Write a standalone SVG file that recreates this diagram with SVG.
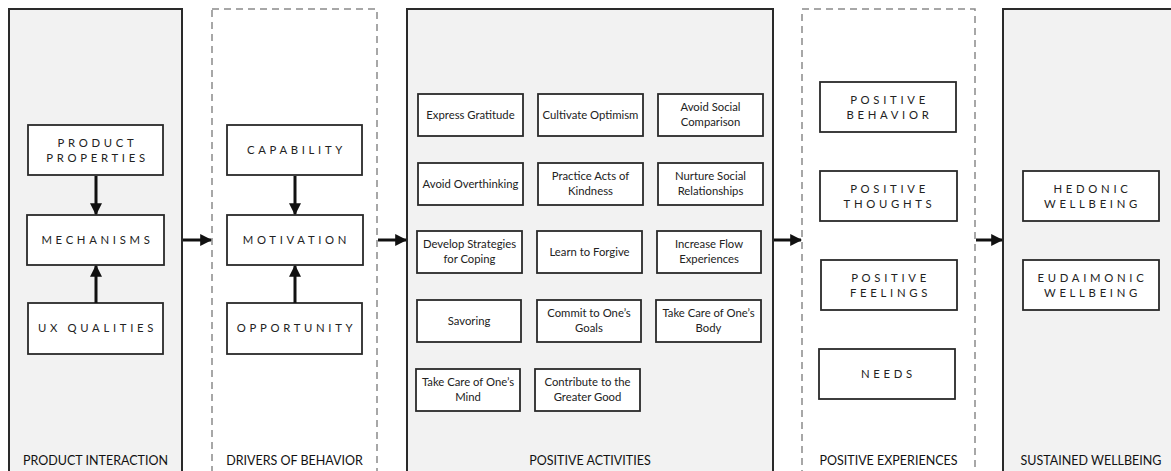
<svg xmlns="http://www.w3.org/2000/svg" width="1171" height="471" viewBox="0 0 1171 471">
  <defs>
    <marker id="head" viewBox="0 0 10 10" refX="9" refY="5" markerWidth="4" markerHeight="4" orient="auto" markerUnits="strokeWidth">
      <path d="M0,0 L10,5 L0,10 Z" fill="#111"/>
    </marker>
    <style>
      .panel { fill: #f2f2f2; stroke: #2a2a2a; stroke-width: 2; }
      .dashed { fill: #ffffff; stroke: #8a8a8a; stroke-width: 1.5; stroke-dasharray: 7 5; }
      .box { fill: #ffffff; stroke: #2a2a2a; stroke-width: 1.8; }
      .caps { font-family: Lato, "Noto Sans", sans-serif; font-size: 11.3px; letter-spacing: 3.7px; fill: #222; text-anchor: middle; }
      .act { font-family: Lato, "Noto Sans", sans-serif; font-size: 11.3px; fill: #222; text-anchor: middle; }
      .title { font-family: Lato, "Noto Sans", sans-serif; font-size: 12.5px; fill: #111; text-anchor: middle; }
      .link { stroke: #111; stroke-width: 3; fill: none; marker-end: url(#head); }
    </style>
  </defs>

  <!-- column containers -->
  <g id="col-product-interaction">
    <rect class="panel" x="9" y="9" width="173" height="475"/>
    <text class="title" x="95.5" y="465">PRODUCT INTERACTION</text>
  </g>
  <g id="col-drivers">
    <rect class="dashed" x="212" y="9" width="165" height="475"/>
    <text class="title" x="294.5" y="465">DRIVERS OF BEHAVIOR</text>
  </g>
  <g id="col-activities">
    <rect class="panel" x="407" y="9" width="366" height="475"/>
    <text class="title" x="590" y="465">POSITIVE ACTIVITIES</text>
  </g>
  <g id="col-experiences">
    <rect class="dashed" x="802" y="9" width="173" height="475"/>
    <text class="title" x="888.5" y="465">POSITIVE EXPERIENCES</text>
  </g>
  <g id="col-wellbeing">
    <rect class="panel" x="1003" y="9" width="180" height="475"/>
    <text class="title" x="1091" y="465">SUSTAINED WELLBEING</text>
  </g>

  <!-- product interaction (caps labels nudged right to offset trailing letter-spacing) -->
  <g id="product-properties">
    <rect class="box" x="28" y="125" width="135" height="50"/>
    <text class="caps" x="97.5" y="147">PRODUCT</text>
    <text class="caps" x="97.5" y="162">PROPERTIES</text>
  </g>
  <g id="mechanisms">
    <rect class="box" x="27" y="215" width="137" height="50"/>
    <text class="caps" x="97.5" y="244">MECHANISMS</text>
  </g>
  <g id="ux-qualities">
    <rect class="box" x="28" y="303" width="135" height="51"/>
    <text class="caps" x="97.5" y="332">UX QUALITIES</text>
  </g>

  <!-- drivers of behavior -->
  <g id="capability">
    <rect class="box" x="227" y="125" width="135" height="50"/>
    <text class="caps" x="296.5" y="154">CAPABILITY</text>
  </g>
  <g id="motivation">
    <rect class="box" x="227" y="215" width="136" height="50"/>
    <text class="caps" x="296.5" y="244">MOTIVATION</text>
  </g>
  <g id="opportunity">
    <rect class="box" x="227" y="303" width="135" height="51"/>
    <text class="caps" x="296.5" y="332">OPPORTUNITY</text>
  </g>

  <!-- positive activities -->
  <g id="express-gratitude">
    <rect class="box" x="418" y="94" width="105" height="42"/>
    <text class="act" x="470.5" y="119">Express Gratitude</text>
  </g>
  <g id="cultivate-optimism">
    <rect class="box" x="538" y="94" width="105" height="42"/>
    <text class="act" x="590.5" y="119">Cultivate Optimism</text>
  </g>
  <g id="avoid-social-comparison">
    <rect class="box" x="658" y="94" width="105" height="42"/>
    <text class="act" x="710.5" y="111">Avoid Social</text>
    <text class="act" x="710.5" y="126">Comparison</text>
  </g>

  <g id="avoid-overthinking">
    <rect class="box" x="418" y="163" width="105" height="42"/>
    <text class="act" x="470.5" y="188">Avoid Overthinking</text>
  </g>
  <g id="practice-kindness">
    <rect class="box" x="538" y="163" width="105" height="42"/>
    <text class="act" x="590.5" y="180">Practice Acts of</text>
    <text class="act" x="590.5" y="195">Kindness</text>
  </g>
  <g id="nurture-relationships">
    <rect class="box" x="658" y="163" width="105" height="42"/>
    <text class="act" x="710.5" y="180">Nurture Social</text>
    <text class="act" x="710.5" y="195">Relationships</text>
  </g>

  <g id="coping-strategies">
    <rect class="box" x="417" y="231" width="105" height="42"/>
    <text class="act" x="469.5" y="248">Develop Strategies</text>
    <text class="act" x="469.5" y="263">for Coping</text>
  </g>
  <g id="learn-to-forgive">
    <rect class="box" x="537" y="231" width="105" height="42"/>
    <text class="act" x="589.5" y="256">Learn to Forgive</text>
  </g>
  <g id="flow-experiences">
    <rect class="box" x="657" y="231" width="104" height="42"/>
    <text class="act" x="709" y="248">Increase Flow</text>
    <text class="act" x="709" y="263">Experiences</text>
  </g>

  <g id="savoring">
    <rect class="box" x="417" y="300" width="104" height="42"/>
    <text class="act" x="469" y="325">Savoring</text>
  </g>
  <g id="commit-goals">
    <rect class="box" x="537" y="300" width="104" height="42"/>
    <text class="act" x="589" y="317">Commit to One’s</text>
    <text class="act" x="589" y="332">Goals</text>
  </g>
  <g id="care-body">
    <rect class="box" x="656" y="300" width="105" height="42"/>
    <text class="act" x="708.5" y="317">Take Care of One’s</text>
    <text class="act" x="708.5" y="332">Body</text>
  </g>

  <g id="care-mind">
    <rect class="box" x="416" y="369" width="104" height="42"/>
    <text class="act" x="468" y="386">Take Care of One’s</text>
    <text class="act" x="468" y="401">Mind</text>
  </g>
  <g id="greater-good">
    <rect class="box" x="535" y="369" width="105" height="42"/>
    <text class="act" x="587.5" y="386">Contribute to the</text>
    <text class="act" x="587.5" y="401">Greater Good</text>
  </g>

  <!-- positive experiences -->
  <g id="positive-behavior">
    <rect class="box" x="820" y="82" width="136" height="50"/>
    <text class="caps" x="889.5" y="104">POSITIVE</text>
    <text class="caps" x="889.5" y="119">BEHAVIOR</text>
  </g>
  <g id="positive-thoughts">
    <rect class="box" x="820" y="171" width="137" height="50"/>
    <text class="caps" x="889.5" y="193">POSITIVE</text>
    <text class="caps" x="889.5" y="208">THOUGHTS</text>
  </g>
  <g id="positive-feelings">
    <rect class="box" x="821" y="260" width="136" height="50"/>
    <text class="caps" x="890.5" y="282">POSITIVE</text>
    <text class="caps" x="890.5" y="297">FEELINGS</text>
  </g>
  <g id="needs">
    <rect class="box" x="819" y="349" width="136" height="50"/>
    <text class="caps" x="888.5" y="378">NEEDS</text>
  </g>

  <!-- sustained wellbeing -->
  <g id="hedonic-wellbeing">
    <rect class="box" x="1023" y="171" width="136" height="50"/>
    <text class="caps" x="1092.5" y="193">HEDONIC</text>
    <text class="caps" x="1092.5" y="208">WELLBEING</text>
  </g>
  <g id="eudaimonic-wellbeing">
    <rect class="box" x="1023" y="260" width="136" height="50"/>
    <text class="caps" x="1092.5" y="282">EUDAIMONIC</text>
    <text class="caps" x="1092.5" y="297">WELLBEING</text>
  </g>

  <!-- connectors -->
  <g id="connectors">
    <line class="link" x1="96" y1="176" x2="96" y2="214"/>
    <line class="link" x1="96" y1="303" x2="96" y2="266"/>
    <line class="link" x1="295" y1="176" x2="295" y2="214"/>
    <line class="link" x1="295" y1="303" x2="295" y2="266"/>
    <line class="link" x1="183" y1="240" x2="211" y2="240"/>
    <line class="link" x1="378" y1="240" x2="406" y2="240"/>
    <line class="link" x1="774" y1="240" x2="801" y2="240"/>
    <line class="link" x1="976" y1="240" x2="1002" y2="240"/>
  </g>
</svg>
